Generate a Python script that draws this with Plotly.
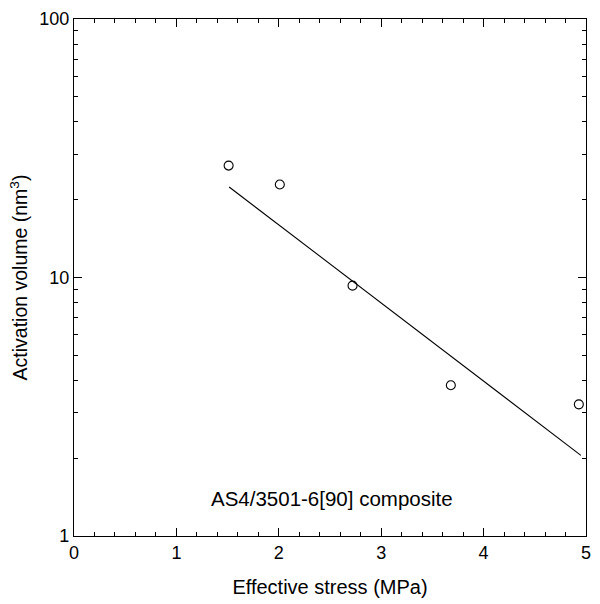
import plotly.graph_objects as go

# Data
stress = [1.51, 2.01, 2.72, 3.68, 4.93]
volume = [27.1, 22.9, 9.3, 3.83, 3.23]
fit_x = [1.515, 4.95]
fit_y = [22.4, 2.05]

x_ticks = [0, 1, 2, 3, 4, 5]
y_ticks = [1, 10, 100]
y_ticktext = ["1", "10", "100"]
x_minor = [i / 5 for i in range(26) if i % 5 != 0]
y_minor = [m * d for d in (1, 10) for m in range(2, 10)]

FONT = "Liberation Sans, Arial, Helvetica, sans-serif"

fig = go.Figure()
fig.add_trace(go.Scatter(x=fit_x, y=fit_y, mode="lines",
                         line=dict(color="black", width=1.1), showlegend=False))
fig.add_trace(go.Scatter(x=stress, y=volume, mode="markers",
                         marker=dict(symbol="circle-open", size=9, color="black",
                                     line=dict(width=1.1)), showlegend=False))
# invisible trace to activate the mirror axes (top / right)
fig.add_trace(go.Scatter(x=fit_x, y=fit_y, xaxis="x2", yaxis="y2", mode="lines",
                         line=dict(width=0), opacity=0, hoverinfo="skip",
                         showlegend=False))

fig.add_annotation(text="AS4/3501-6[90] composite", x=2.52, y=0.073,
                   xref="x", yref="paper", yanchor="middle",
                   showarrow=False, font=dict(family=FONT, size=20.5, color="black"))

common_x = dict(range=[0, 5], tickvals=x_ticks, ticks="inside", ticklen=8, tickwidth=1,
                tickcolor="black", showline=True, linecolor="black", linewidth=1.2,
                showgrid=False, zeroline=False,
                minor=dict(tickvals=x_minor, ticks="inside", ticklen=4, tickwidth=1,
                           tickcolor="black", showgrid=False))
common_y = dict(type="log", range=[0, 2], tickvals=y_ticks, ticktext=y_ticktext,
                ticks="inside", ticklen=8, tickwidth=1, tickcolor="black",
                showline=True, linecolor="black", linewidth=1.2,
                showgrid=False, zeroline=False,
                minor=dict(tickvals=y_minor, ticks="inside", ticklen=4, tickwidth=1,
                           tickcolor="black", showgrid=False))

fig.update_layout(
    width=600, height=604,
    margin=dict(l=74, r=9, t=15, b=68),
    paper_bgcolor="white", plot_bgcolor="white",
    font=dict(family=FONT, size=18, color="black"),
    xaxis=dict(**common_x,
               title=dict(text="Effective stress (MPa)", font=dict(size=20), standoff=18),
               tickfont=dict(size=18)),
    yaxis=dict(**common_y,
               title=dict(text="Activation volume (nm<sup>3</sup>)", font=dict(size=19.5),
                          standoff=6),
               tickfont=dict(size=18)),
    xaxis2=dict(**common_x, overlaying="x", side="top", showticklabels=False,
                matches="x"),
    yaxis2=dict(**common_y, overlaying="y", side="right", showticklabels=False,
                matches="y"),
)

fig.write_html("out.html")
